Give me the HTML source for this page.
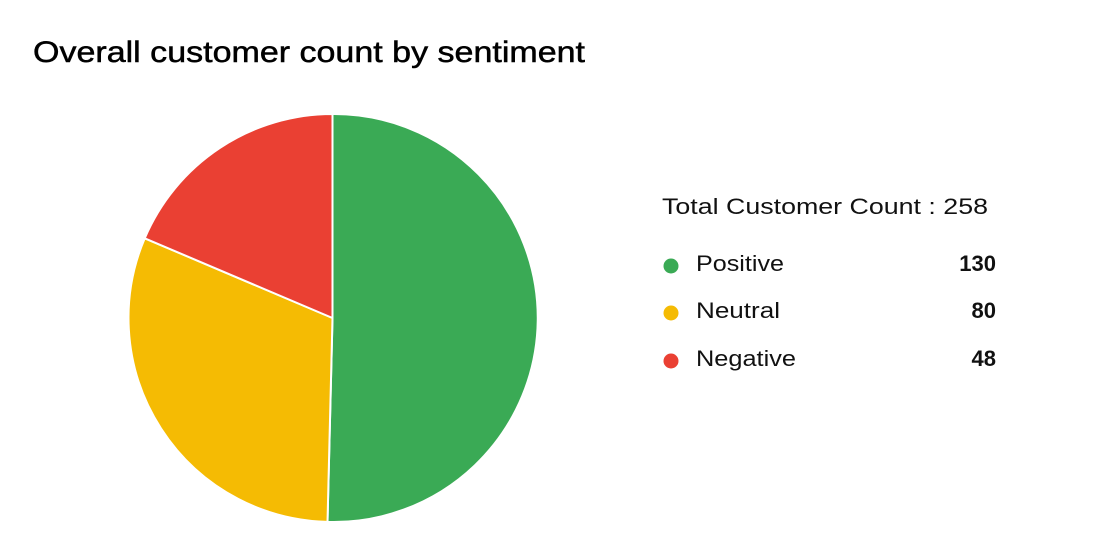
<!DOCTYPE html>
<html><head><style>
body{margin:0;background:#fff;width:1096px;height:540px;overflow:hidden;font-family:"Liberation Sans",sans-serif;}
</style></head><body>
<svg width="1096" height="540" xmlns="http://www.w3.org/2000/svg" style="position:absolute;left:0;top:0">
<text x="33" y="62" font-family="Liberation Sans, sans-serif" font-size="30" fill="#000" stroke="#000" stroke-width="0.5" textLength="552" lengthAdjust="spacingAndGlyphs">Overall customer count by sentiment</text>
<g stroke="#fff" stroke-width="2" stroke-linejoin="round">
<path d="M332.5,318 L332.5,114 A204,204 0 1,1 327.5,521.9 Z" fill="#3aaa55"/>
<path d="M332.5,318 L327.5,521.9 A204,204 0 0,1 144.7,238.3 Z" fill="#f5bb03"/>
<path d="M332.5,318 L144.7,238.3 A204,204 0 0,1 332.5,114 Z" fill="#ea4033"/>
</g>
<g font-family="Liberation Sans, sans-serif" font-size="22" fill="#111">
<text x="662" y="214" textLength="326" lengthAdjust="spacingAndGlyphs">Total Customer Count : 258</text>
<circle cx="671" cy="266" r="7.5" fill="#3aaa55"/>
<text x="696" y="271" textLength="88" lengthAdjust="spacingAndGlyphs">Positive</text>
<text x="996" y="271" text-anchor="end" font-weight="bold">130</text>
<circle cx="671" cy="313" r="7.5" fill="#f5bb03"/>
<text x="696" y="318" textLength="84" lengthAdjust="spacingAndGlyphs">Neutral</text>
<text x="996" y="318" text-anchor="end" font-weight="bold">80</text>
<circle cx="671" cy="361" r="7.5" fill="#ea4033"/>
<text x="696" y="366" textLength="100" lengthAdjust="spacingAndGlyphs">Negative</text>
<text x="996" y="366" text-anchor="end" font-weight="bold">48</text>
</g>
</svg>
</body></html>
